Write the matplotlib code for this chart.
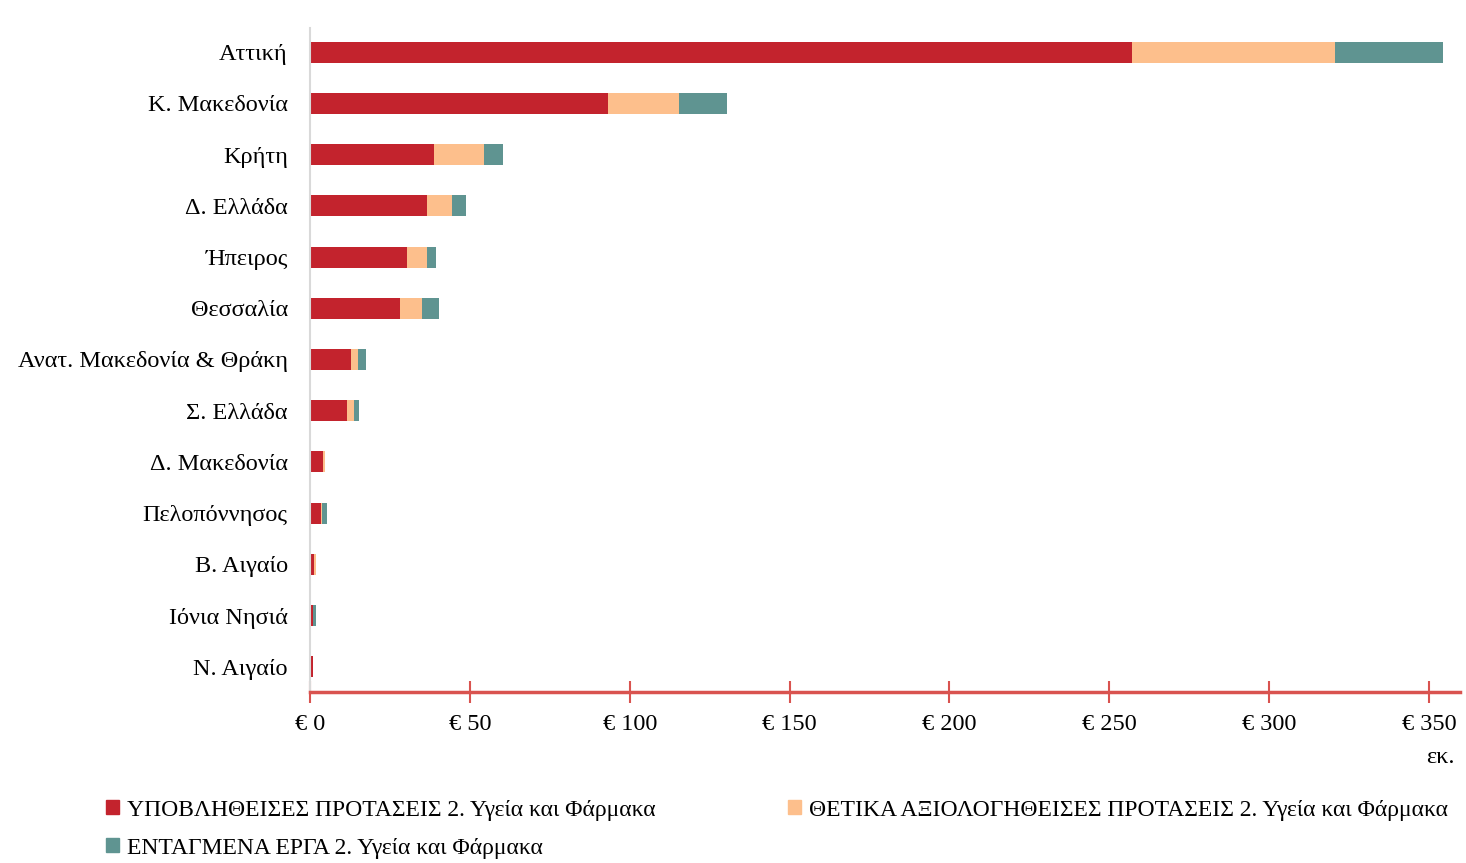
import matplotlib.pyplot as plt
from matplotlib.patches import Patch

# Regions (top to bottom) and values in million euro
regions = ['Αττική', 'Κ. Μακεδονία', 'Κρήτη', 'Δ. Ελλάδα', 'Ήπειρος', 'Θεσσαλία',
           'Ανατ. Μακεδονία & Θράκη', 'Σ. Ελλάδα', 'Δ. Μακεδονία', 'Πελοπόννησος',
           'Β. Αιγαίο', 'Ιόνια Νησιά', 'Ν. Αιγαίο']
submitted = [257, 93.2, 38.8, 36.5, 30.2, 28.1, 12.7, 11.5, 4.2, 3.3, 1.3, 0.8, 0.8]
approved = [63.6, 22.2, 15.6, 7.9, 6.3, 6.9, 2.4, 2.3, 0.6, 0.6, 0.6, 0.1, 0.0]
funded = [33.8, 14.9, 6.1, 4.4, 2.8, 5.4, 2.4, 1.5, 0.0, 1.4, 0.0, 1.1, 0.0]
series_names = ['ΥΠΟΒΛΗΘΕΙΣΕΣ ΠΡΟΤΑΣΕΙΣ 2. Υγεία και Φάρμακα',
                'ΘΕΤΙΚΑ ΑΞΙΟΛΟΓΗΘΕΙΣΕΣ ΠΡΟΤΑΣΕΙΣ 2. Υγεία και Φάρμακα',
                'ΕΝΤΑΓΜΕΝΑ ΕΡΓΑ 2. Υγεία και Φάρμακα']
xticks = [0, 50, 100, 150, 200, 250, 300, 350]

colors = ['#C3232D', '#FDBF8C', '#5F9491']
axis_red = '#D9534F'
fs = 17.5

plt.rcParams['font.family'] = ['Liberation Serif', 'DejaVu Serif']

fig = plt.figure(figsize=(14.66, 8.63), dpi=100)
ax = fig.add_axes([310 / 1466, 1 - 692 / 863, 1150 / 1466, 664 / 863])

y = list(range(len(regions)))
left = [0] * len(regions)
for vals, c in zip([submitted, approved, funded], colors):
    ax.barh(y, vals, left=left, height=0.41, color=c)
    left = [l + v for l, v in zip(left, vals)]

ax.set_xlim(0, 359.7)
ax.set_ylim(12.49, -0.47)
ax.set_yticks(y)
ax.set_yticklabels(regions, fontsize=fs)
ax.tick_params(axis='y', length=0, pad=16)
ax.set_xticks(xticks)
ax.set_xticklabels(['€ %d' % t for t in xticks], fontsize=fs)
ax.tick_params(axis='x', direction='inout', length=16, width=1.5, color=axis_red, pad=8)

for s in ['top', 'right']:
    ax.spines[s].set_visible(False)
ax.spines['left'].set_color('#D9D9D9')
ax.spines['left'].set_linewidth(1.5)
ax.spines['bottom'].set_color(axis_red)
ax.spines['bottom'].set_linewidth(2.5)

fig.text(1455 / 1466, 1 - 757 / 863, 'εκ.', fontsize=fs, ha='right', va='center')

handles = [Patch(color=c) for c in colors]
opts = dict(loc='center left', frameon=False, fontsize=17, handlelength=0.55,
            handleheight=0.55, handletextpad=0.3, borderaxespad=0)
fig.legend(handles[:1], series_names[:1], bbox_to_anchor=(97 / 1466, 1 - 810 / 863), **opts)
fig.legend(handles[1:2], series_names[1:2], bbox_to_anchor=(779 / 1466, 1 - 810 / 863), **opts)
fig.legend(handles[2:], series_names[2:], bbox_to_anchor=(97 / 1466, 1 - 848 / 863), **opts)

fig.savefig('out.png', dpi=100)
